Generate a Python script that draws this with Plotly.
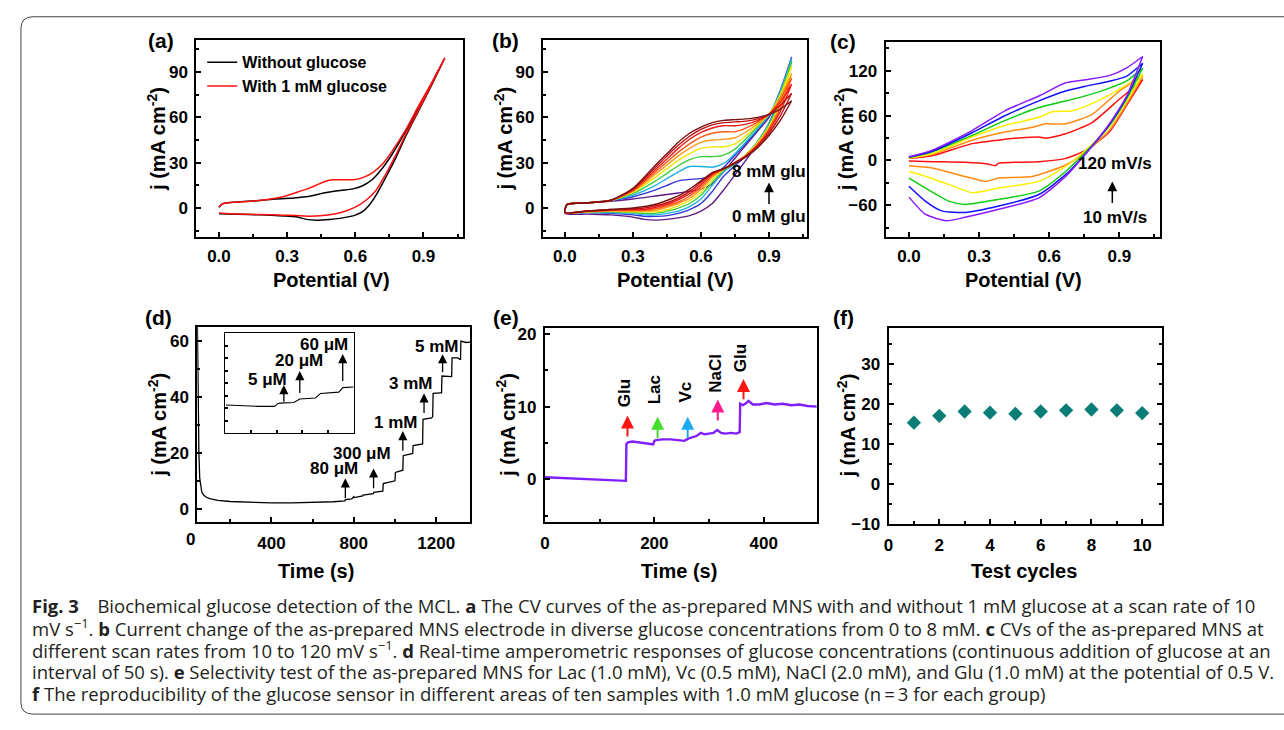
import plotly.graph_objects as go

W, H = 1284, 730
FONT = "Liberation Sans, Arial, sans-serif"
CAP_FONT = "Open Sans, sans-serif"

def fx(p):
    return p / W

def fy(p):
    return 1 - p / H

# ---------------- DATA ----------------
# (a) CV with / without glucose
a_black_fwd_V = [0.0, 0.015, 0.05, 0.11, 0.18, 0.25, 0.33, 0.37, 0.41, 0.46, 0.50, 0.54, 0.59, 0.63, 0.675, 0.72, 0.76, 0.82, 0.88, 0.936, 0.994]
a_black_fwd_j = [0.6, 2.8, 3.7, 4.3, 5.0, 6.0, 6.7, 7.3, 8.2, 9.9, 11.0, 11.8, 12.7, 14.6, 18.9, 26.5, 35.1, 50.2, 66.3, 82.5, 99.3]
a_black_rev_V = [0.994, 0.936, 0.878, 0.82, 0.777, 0.733, 0.69, 0.66, 0.63, 0.60, 0.544, 0.486, 0.428, 0.385, 0.341, 0.283, 0.18, 0.08, 0.0]
a_black_rev_j = [99.3, 81.4, 64.2, 46.9, 32.9, 20.0, 8.2, 1.7, -2.6, -4.7, -6.5, -7.5, -8.0, -7.5, -5.8, -5.2, -4.5, -4.1, -3.7]
a_red_fwd_V = [0.0, 0.015, 0.065, 0.138, 0.196, 0.254, 0.298, 0.341, 0.385, 0.428, 0.472, 0.50, 0.544, 0.60, 0.63, 0.675, 0.72, 0.76, 0.82, 0.878, 0.936, 0.994]
a_red_fwd_j = [0.6, 2.8, 3.9, 4.5, 5.4, 6.7, 8.2, 10.3, 12.5, 15.1, 17.9, 18.7, 18.7, 18.9, 20.0, 23.3, 29.1, 37.2, 51.2, 67.4, 82.9, 99.3]
a_red_rev_V = [0.994, 0.936, 0.878, 0.82, 0.777, 0.733, 0.69, 0.646, 0.60, 0.559, 0.515, 0.457, 0.40, 0.341, 0.283, 0.18, 0.08, 0.0]
a_red_rev_j = [99.3, 82.0, 64.8, 48.0, 34.7, 22.2, 11.4, 5.0, 0.6, -1.9, -3.7, -5.0, -5.4, -5.0, -4.7, -4.3, -3.9, -3.2]
a_names = ["Without glucose", "With 1 mM glucose"]

# (b) CVs at 0 -> 8 mM glucose (purple -> dark red)
b_fwd_V = [0.0, 0.01, 0.1, 0.2, 0.3, 0.4, 0.45, 0.5, 0.55, 0.6, 0.65, 0.7, 0.75, 0.8, 0.85, 0.9, 0.95, 1.0]
b_rev_V = [1.0, 0.95, 0.9, 0.85, 0.8, 0.75, 0.7, 0.65, 0.6, 0.55, 0.5, 0.45, 0.4, 0.35, 0.3, 0.2, 0.1, 0.0]
b_fwd_j = [
    [-3.5, 2.0, 3.5, 4.5, 6.0, 8.0, 9.0, 10.0, 11.0, 12.5, 16.0, 24.0, 33.0, 42.0, 51.0, 60.0, 77.0, 97.0],
    [-3.0, 2.5, 3.5, 5.0, 7.5, 12.0, 15.0, 18.0, 19.0, 19.5, 21.5, 27.0, 35.0, 43.0, 52.0, 61.0, 78.0, 100.0],
    [-3.0, 2.5, 3.5, 5.0, 8.5, 15.0, 19.5, 24.0, 27.5, 27.5, 27.0, 29.5, 36.0, 44.0, 52.5, 61.5, 77.0, 99.0],
    [-3.0, 2.5, 3.5, 5.0, 9.5, 18.0, 23.0, 28.0, 32.0, 34.0, 34.0, 35.0, 39.0, 46.0, 54.0, 62.0, 76.0, 97.0],
    [-3.0, 2.5, 3.5, 5.0, 10.5, 20.5, 26.0, 31.5, 36.0, 39.5, 40.5, 40.5, 42.5, 48.0, 55.0, 62.0, 75.0, 94.0],
    [-3.0, 2.5, 3.5, 5.0, 11.0, 22.5, 28.5, 34.5, 39.5, 43.5, 45.0, 45.5, 46.5, 50.5, 56.0, 62.0, 73.0, 89.0],
    [-3.0, 2.5, 3.5, 5.0, 11.5, 24.0, 30.5, 37.0, 42.5, 47.0, 49.5, 50.5, 50.5, 53.0, 57.0, 62.0, 72.0, 86.0],
    [-3.0, 2.5, 3.5, 5.0, 12.0, 25.5, 32.5, 39.5, 45.5, 50.0, 53.0, 54.5, 54.5, 55.5, 58.0, 62.0, 70.0, 82.0],
    [-3.0, 2.5, 3.5, 5.0, 12.5, 27.0, 34.5, 41.5, 47.5, 52.0, 55.0, 56.5, 57.0, 57.5, 59.0, 62.0, 68.0, 76.0],
    [-3.0, 2.5, 3.5, 5.0, 13.0, 28.5, 36.0, 43.5, 49.5, 53.5, 56.5, 58.0, 58.5, 59.0, 60.0, 62.0, 65.5, 71.0],
]
b_rev_j = [
    [97, 75, 56, 43, 32, 22, 12, 3, -2, -5, -6.5, -7.5, -8, -7.5, -6, -4.5, -4, -3.5],
    [100, 74, 56, 44, 35, 28, 21, 11, 3, -1, -3.5, -5, -5.5, -5.5, -4.5, -3.5, -3, -3],
    [99, 73, 56, 44, 35.5, 29, 24, 15, 6, 1, -2, -3.5, -4.5, -4.5, -3.5, -3, -3, -3],
    [97, 72, 55, 44, 35.5, 29.5, 25, 17, 8.5, 3, 0, -2, -3.5, -3.5, -3, -2.5, -2.5, -3],
    [94, 70, 54, 43.5, 35.5, 30, 25.5, 19, 10.5, 5, 1.5, -1, -2.5, -2.5, -2.5, -2, -2.5, -3],
    [89, 68, 53, 42.5, 35, 30, 26, 20.5, 12.5, 6.5, 3, 0.5, -1.5, -2, -2, -2, -2.5, -3],
    [86, 66, 52, 42, 35, 30, 26, 21.5, 14, 8, 4, 1.5, -0.5, -1.5, -1.5, -1.5, -2, -3],
    [82, 64, 51, 41.5, 34.5, 30, 26, 22.5, 15.5, 9.5, 5.5, 2.5, 0.5, -1, -1, -1.5, -2, -3],
    [76, 61, 49.5, 41, 34.5, 30, 26, 23, 17, 11, 6.5, 3.5, 1.5, 0, -0.5, -1, -2, -3],
    [71, 58, 48, 40, 34, 29.5, 26, 23.5, 18, 12.5, 8, 5, 2.5, 1, 0, -1, -2, -3],
]
b_colors = ["#5e1a86", "#3434d8", "#22b2ea", "#3ccc3c", "#f0e400", "#ff9a1a", "#ff5a14", "#ee1c1c", "#c01010", "#7a1010"]

# (c) CVs at scan rates 10 -> 120 mV/s
c_fwd_V = [
    [0, 0.1, 0.27, 0.41, 0.47, 0.556, 0.585, 0.67, 0.785, 0.9, 1.0],
    [0, 0.1, 0.27, 0.41, 0.53, 0.585, 0.67, 0.785, 0.9, 1.0],
    [0, 0.1, 0.27, 0.41, 0.556, 0.613, 0.7, 0.81, 0.91, 1.0],
    [0, 0.1, 0.27, 0.41, 0.556, 0.642, 0.728, 0.843, 0.93, 1.0],
    [0, 0.1, 0.27, 0.41, 0.556, 0.67, 0.757, 0.857, 0.93, 1.0],
    [0, 0.1, 0.27, 0.41, 0.556, 0.67, 0.757, 0.857, 0.93, 1.0],
]
c_fwd_j = [
    [2.8, 6.3, 22.5, 28.3, 30, 31.3, 29.8, 35.7, 51, 81.8, 108],
    [3, 8, 27, 38, 44.5, 49, 49, 62, 92.8, 112.5],
    [3.5, 9.4, 31.3, 46.7, 57.7, 65, 66.5, 80, 97, 115.6],
    [4, 11.6, 33.5, 53.3, 70.8, 77.4, 84, 95, 106, 123.5],
    [4.5, 12.4, 37, 59.8, 79.6, 92.8, 99.4, 106, 112.5, 130],
    [5, 13.8, 40, 66.4, 86.2, 103.8, 108, 113.4, 123.5, 139],
]
c_rev_V = [
    [1.0, 0.93, 0.857, 0.757, 0.67, 0.556, 0.45, 0.384, 0.37, 0.34, 0.24, 0.1, 0],
    [1.0, 0.93, 0.857, 0.757, 0.67, 0.527, 0.384, 0.327, 0.24, 0.1, 0],
    [1.0, 0.93, 0.857, 0.757, 0.67, 0.556, 0.384, 0.27, 0.17, 0.07, 0],
    [1.0, 0.93, 0.857, 0.757, 0.67, 0.556, 0.384, 0.24, 0.17, 0.07, 0],
    [1.0, 0.93, 0.857, 0.757, 0.67, 0.556, 0.384, 0.24, 0.14, 0.07, 0],
    [1.0, 0.93, 0.857, 0.757, 0.67, 0.556, 0.384, 0.24, 0.16, 0.07, 0],
]
c_rev_j = [
    [108, 73, 38, 13.8, 2.8, -1.6, -2.5, -3.5, -6.9, -5, -2.5, -1.6, -0.7],
    [112.5, 75, 40, 11.6, -6, -21.4, -23.5, -28, -21.4, -10, -6.9],
    [115.6, 79, 44.5, 14, -8, -28, -36.7, -43, -32, -21, -14.8],
    [123.5, 81.8, 46.7, 11.6, -14.8, -41, -52, -58.7, -54.3, -36.7, -23.6],
    [130, 84, 47.6, 9.4, -19, -45.5, -61, -69.6, -67.4, -54.3, -34.5],
    [139, 85.3, 49, 9.4, -21.4, -50, -65.3, -76, -80.6, -71.8, -49],
]
c_colors = ["#ff1010", "#ff8a10", "#f8f000", "#10cc10", "#1010ff", "#8a1aff"]

# (d) amperometric response
d_t = [40, 44, 48, 52, 56, 62, 70, 80, 100, 140, 200, 300, 400, 500, 600, 700, 757, 759, 790, 800, 802,
       830, 843, 845, 880, 895, 897, 935, 941, 943, 975, 990, 1000, 1002, 1030, 1038, 1040, 1080, 1086,
       1088, 1130, 1134, 1136, 1178, 1183, 1185, 1222, 1226, 1228, 1270, 1275, 1277, 1305, 1315, 1318,
       1320, 1335, 1345, 1365]
d_j = [70, 40, 20, 11, 8, 6, 5, 4.3, 3.6, 3.0, 2.6, 2.3, 2.1, 2.1, 2.2, 2.5, 2.8, 3.3, 3.5, 4.3, 4.0,
       4.3, 4.6, 4.9, 5.2, 5.4, 5.9, 6.2, 6.3, 9.0, 9.5, 9.8, 10.0, 13.0, 13.5, 13.8, 19.0, 19.5, 19.8,
       22.6, 23.0, 23.2, 32.0, 32.5, 33.0, 41.3, 41.5, 41.5, 47.5, 47.5, 47.3, 54.0, 54.0, 53.5, 53.5,
       60.0, 59.8, 59.5, 59.6]
d_arrow_t = [759, 896, 1038, 1141, 1231]
d_arrow_base = [3.3, 6.8, 20.2, 33.7, 48.3]
d_arrow_tip = [10.9, 14.4, 27.8, 41.3, 55.3]
d_labels = ["80 μM", "300 μM", "1 mM", "3 mM", "5 mM"]
d_label_t = [702, 838, 1001, 1073, 1202]
d_label_j = [14.4, 19.6, 30.8, 44.8, 58.2]

# (d) inset (arbitrary units, no tick labels)
inset_u = [0.5, 12.1, 25.1, 38.0, 39.3, 40.6, 42.6, 53.5, 55.6, 58.1, 70.3, 72.1, 74.2, 88.4, 90.2, 91.7, 100]
inset_v = [28.1, 27.4, 26.8, 26.8, 27.4, 29.4, 30.0, 30.6, 31.9, 34.2, 35.2, 37.7, 39.7, 41.0, 43.5, 45.5, 46.1]
inset_arrow_u = [45.7, 58.1, 91.5]
inset_arrow_base = [30.0, 38.7, 50.6]
inset_arrow_tip = [48.0, 62.0, 79.0]
inset_labels = ["5 μM", "20 μM", "60 μM"]
inset_label_u = [33.3, 57.4, 76.7]
inset_label_v = [53.9, 72.6, 88.7]

# (e) selectivity test
e_t = [0, 50, 100, 140, 148, 149, 152, 160, 175, 190, 198, 200, 203, 215, 230, 245, 255, 262, 270, 278,
       285, 292, 300, 308, 315, 322, 330, 340, 350, 356, 357, 362, 368, 372, 380, 392, 405, 420, 435,
       450, 465, 480, 497]
e_j = [0.3, 0.15, 0.0, -0.2, -0.2, 4.9, 5.1, 5.2, 5.0, 4.9, 4.8, 5.3, 5.4, 5.5, 5.5, 5.4, 5.3, 5.6, 5.8,
       6.0, 6.4, 6.2, 6.3, 6.4, 6.8, 6.4, 6.3, 6.4, 6.3, 6.5, 10.4, 10.2, 10.5, 10.8, 10.3, 10.3, 10.5,
       10.3, 10.4, 10.2, 10.3, 10.1, 10.0]
e_species = ["Glu", "Lac", "Vc", "NaCl", "Glu"]
e_arrow_t = [151, 206, 261, 316, 363]
e_arrow_base = [5.7, 5.5, 5.5, 7.9, 10.8]
e_arrow_tip = [8.8, 8.6, 8.6, 11.0, 13.8]
e_label_j = [11.9, 12.3, 12.0, 14.6, 16.7]
e_arrow_colors = ["#ff1414", "#44dd2e", "#1eaaf0", "#ff1a8c", "#ff1414"]

# (f) reproducibility
f_cycle = [1, 2, 3, 4, 5, 6, 7, 8, 9, 10]
f_j = [15.3, 17.0, 18.1, 17.8, 17.5, 18.1, 18.4, 18.6, 18.4, 17.7]

# caption
caption_lines = [
    "<b>Fig. 3</b>\u2003Biochemical glucose detection of the MCL. <b>a</b> The CV curves of the as-prepared MNS with and without 1 mM glucose at a scan rate of 10",
    "mV s<sup>\u22121</sup>. <b>b</b> Current change of the as-prepared MNS electrode in diverse glucose concentrations from 0 to 8 mM. <b>c</b> CVs of the as-prepared MNS at",
    "different scan rates from 10 to 120 mV s<sup>\u22121</sup>. <b>d</b> Real-time amperometric responses of glucose concentrations (continuous addition of glucose at an",
    "interval of 50 s). <b>e</b> Selectivity test of the as-prepared MNS for Lac (1.0 mM), Vc (0.5 mM), NaCl (2.0 mM), and Glu (1.0 mM) at the potential of 0.5 V.",
    "<b>f</b> The reproducibility of the glucose sensor in different areas of ten samples with 1.0 mM glucose (n\u2009=\u20093 for each group)",
]

# ---------------- FIGURE ----------------
fig = go.Figure()

# (a)
fig.add_trace(go.Scatter(x=a_black_fwd_V + a_black_rev_V, y=a_black_fwd_j + a_black_rev_j, mode="lines",
                         line=dict(color="black", width=1.5, shape="spline", smoothing=0.6),
                         name=a_names[0], xaxis="x", yaxis="y"))
fig.add_trace(go.Scatter(x=a_red_fwd_V + a_red_rev_V, y=a_red_fwd_j + a_red_rev_j, mode="lines",
                         line=dict(color="#ff1010", width=1.5, shape="spline", smoothing=0.6),
                         name=a_names[1], xaxis="x", yaxis="y"))

# (b)
for fj, rj, col in zip(b_fwd_j, b_rev_j, b_colors):
    fig.add_trace(go.Scatter(x=b_fwd_V + b_rev_V, y=fj + rj, mode="lines", showlegend=False,
                             line=dict(color=col, width=1.4, shape="spline", smoothing=0.6),
                             xaxis="x2", yaxis="y2"))

# (c)
for fv, fj, rv, rj, col in zip(c_fwd_V, c_fwd_j, c_rev_V, c_rev_j, c_colors):
    fig.add_trace(go.Scatter(x=fv + rv, y=fj + rj, mode="lines", showlegend=False,
                             line=dict(color=col, width=1.5, shape="spline", smoothing=0.6),
                             xaxis="x3", yaxis="y3"))

# (d)
fig.add_trace(go.Scatter(x=d_t, y=d_j, mode="lines", showlegend=False,
                         line=dict(color="black", width=1.3), xaxis="x4", yaxis="y4"))
fig.add_trace(go.Scatter(x=inset_u, y=inset_v, mode="lines", showlegend=False,
                         line=dict(color="black", width=1.1), xaxis="x7", yaxis="y7"))

# (e)
fig.add_trace(go.Scatter(x=e_t, y=e_j, mode="lines", showlegend=False,
                         line=dict(color="#7f1fff", width=2.4), xaxis="x5", yaxis="y5"))

# (f)
fig.add_trace(go.Scatter(x=f_cycle, y=f_j, mode="markers", showlegend=False,
                         marker=dict(symbol="diamond", size=11, color="#0b7d77"),
                         xaxis="x6", yaxis="y6"))

TICKFONT = dict(family=FONT, size=17, color="black", weight="bold")


def axis(dom, rng, dtick, tick0=0, minor=None, anchor=None, fmt=None, mirror=True, lw=2,
         labels=True, ticklen=5, standoff=2):
    d = dict(domain=dom, range=rng, tickmode="linear", tick0=tick0, dtick=dtick, ticks="inside",
             ticklen=ticklen, tickwidth=2, tickcolor="black", showline=True, linecolor="black",
             linewidth=lw, mirror=mirror, showgrid=False, zeroline=False, tickfont=TICKFONT,
             anchor=anchor, fixedrange=True, showticklabels=labels, ticklabelstandoff=standoff)
    if fmt:
        d["tickformat"] = fmt
    if minor:
        d["minor"] = dict(ticks="inside", ticklen=3, tickwidth=1.5, tickcolor="black", dtick=minor,
                          tick0=tick0, showgrid=False)
    return d


# pixel frames
A = (192, 460, 38, 238)
B = (540, 805, 38, 238)
C = (884, 1160, 40, 238)
D = (193, 467, 330, 528)
E = (542, 815, 331, 528)
F = (887, 1162, 331, 530)
I = (221, 350, 336, 438)


def dx(f):
    return [fx(f[0]), fx(f[1])]


def dy(f):
    return [fy(f[3]), fy(f[2])]


fig.update_layout(
    xaxis=axis(dx(A), [-0.1, 1.075], 0.3, minor=0.15, anchor="y", fmt=".1f", standoff=3),
    yaxis=axis(dy(A), [-19, 111], 30, minor=15, anchor="x", standoff=3),
    xaxis2=axis(dx(B), [-0.097, 1.067], 0.3, minor=0.15, anchor="y2", fmt=".1f", standoff=3),
    yaxis2=axis(dy(B), [-19, 111], 30, minor=15, anchor="x2", standoff=3),
    xaxis3=axis(dx(C), [-0.1, 1.076], 0.3, minor=0.15, anchor="y3", fmt=".1f", standoff=3),
    yaxis3=axis(dy(C), [-102, 158], 60, minor=30, anchor="x3", standoff=3),
    xaxis4=axis(dx(D), [40, 1365], 400, minor=200, anchor="y4", standoff=5),
    yaxis4=axis(dy(D), [-4.6, 65], 20, minor=10, anchor="x4", standoff=3),
    xaxis5=axis(dx(E), [0, 497], 200, minor=100, anchor="y5", standoff=5),
    yaxis5=axis(dy(E), [-5.8, 20.8], 10, minor=5, anchor="x5", standoff=3),
    xaxis6=axis(dx(F), [0, 10.8], 2, minor=1, anchor="y6", standoff=5),
    yaxis6=axis(dy(F), [-10, 39], 10, minor=5, anchor="x6", mirror="ticks", standoff=3),
    xaxis7=axis(dx(I), [0, 100], 20, anchor="y7", lw=1, labels=False, ticklen=3),
    yaxis7=axis(dy(I), [0, 100], 12.5, anchor="x7", lw=1, labels=False, ticklen=3),
)

ann = []
TXT = dict(family=FONT, size=17, color="black", weight="bold")


def paper_text(text, x, y, font, angle=0, xanchor="center"):
    return dict(text=text, x=fx(x), y=fy(y), xref="paper", yref="paper", showarrow=False,
                xanchor=xanchor, yanchor="middle", textangle=angle, font=font)


# panel letters
for lab, x, y in [("(a)", 157, 38), ("(b)", 502, 38), ("(c)", 841, 39),
                  ("(d)", 154, 320), ("(e)", 503, 320), ("(f)", 842, 320)]:
    ann.append(paper_text(lab, x, y, dict(family=FONT, size=21, color="black", weight="bold")))

# axis titles
YT = "j (mA cm<sup>-2</sup>)"
TITLEFONT = dict(family=FONT, size=20, color="black", weight="bold")
for x, frame in [(152, A), (500, B), (842, C), (153, D), (503, E), (845, F)]:
    ann.append(paper_text(YT, x, (frame[2] + frame[3]) / 2, TITLEFONT, angle=-90))
for txt, x, y in [("Potential (V)", 328, 282), ("Potential (V)", 673, 282), ("Potential (V)", 1022, 282),
                  ("Time (s)", 312, 578), ("Time (s)", 677, 578), ("Test cycles", 1023, 578)]:
    ann.append(paper_text(txt, x, y, TITLEFONT))

# "0" tick label of panel d (its tick sits just left of the frame)
ann.append(paper_text("0", 186, 546, TICKFONT))

# (b) annotation
ann.append(dict(text="8 mM glu", x=0.9, y=24.4, xref="x2", yref="y2", showarrow=False, font=TXT))
ann.append(dict(text="0 mM glu", x=0.9, y=-5.4, xref="x2", yref="y2", showarrow=False, font=TXT))
ann.append(dict(text="", x=0.9, y=16.9, ax=0.9, ay=1.7, xref="x2", yref="y2", axref="x2", ayref="y2",
                showarrow=True, arrowhead=2, arrowsize=1.3, arrowwidth=1.5, arrowcolor="black"))
# (c) annotation
ann.append(dict(text="120 mV/s", x=0.883, y=-3.8, xref="x3", yref="y3", showarrow=False, font=TXT))
ann.append(dict(text="10 mV/s", x=0.883, y=-76, xref="x3", yref="y3", showarrow=False, font=TXT))
ann.append(dict(text="", x=0.87, y=-28, ax=0.87, ay=-58.7, xref="x3", yref="y3", axref="x3", ayref="y3",
                showarrow=True, arrowhead=2, arrowsize=1.3, arrowwidth=1.5, arrowcolor="black"))

# (d) arrows and labels
for t, b0, tip in zip(d_arrow_t, d_arrow_base, d_arrow_tip):
    ann.append(dict(text="", x=t, y=tip, ax=t, ay=b0, xref="x4", yref="y4", axref="x4", ayref="y4",
                    showarrow=True, arrowhead=2, arrowsize=1.4, arrowwidth=1.3, arrowcolor="black"))
for lab, t, j in zip(d_labels, d_label_t, d_label_j):
    ann.append(dict(text=lab, x=t, y=j, xref="x4", yref="y4", showarrow=False, font=TXT))
for u, b0, tip in zip(inset_arrow_u, inset_arrow_base, inset_arrow_tip):
    ann.append(dict(text="", x=u, y=tip, ax=u, ay=b0, xref="x7", yref="y7", axref="x7", ayref="y7",
                    showarrow=True, arrowhead=2, arrowsize=1.4, arrowwidth=1.3, arrowcolor="black"))
for lab, u, v in zip(inset_labels, inset_label_u, inset_label_v):
    ann.append(dict(text=lab, x=u, y=v, xref="x7", yref="y7", showarrow=False, font=TXT))

# (e) arrows and labels
for sp, t, b0, tip, lj, col in zip(e_species, e_arrow_t, e_arrow_base, e_arrow_tip, e_label_j, e_arrow_colors):
    ann.append(dict(text="", x=t, y=tip, ax=t, ay=b0, xref="x5", yref="y5", axref="x5", ayref="y5",
                    showarrow=True, arrowhead=2, arrowsize=1.3, arrowwidth=2, arrowcolor=col))
    ann.append(dict(text=sp, x=t - 4, y=lj, xref="x5", yref="y5", showarrow=False, textangle=-90,
                    font=TXT))

# caption
CAPFONT = dict(family=CAP_FONT, size=18.5, color="#231f20")
for i, line in enumerate(caption_lines):
    a = paper_text(line, 25, 613 + 22.5 * i, CAPFONT, xanchor="left")
    a["align"] = "left"
    ann.append(a)

# border (rounded at the left corners, open to the right)
x0, x1 = fx(16), fx(1300)
y0, y1 = fy(14), fy(724)
rx, ry = fx(28) - fx(16), fy(14) - fy(26)
path = (f"M{x1},{y0} L{x0 + rx},{y0} Q{x0},{y0} {x0},{y0 - ry} L{x0},{y1 + ry} "
        f"Q{x0},{y1} {x0 + rx},{y1} L{x1},{y1}")

fig.update_layout(
    width=W, height=H, autosize=False,
    margin=dict(l=0, r=0, t=0, b=0),
    paper_bgcolor="white", plot_bgcolor="white",
    annotations=ann,
    shapes=[dict(type="path", path=path, xref="paper", yref="paper", line=dict(color="#444", width=1))],
    legend=dict(x=fx(198), y=fy(43), xanchor="left", yanchor="top", bgcolor="rgba(0,0,0,0)",
                font=dict(family=FONT, size=16, color="black", weight="bold"), tracegroupgap=0),
    showlegend=True,
)

fig.write_html("out.html", config={"displayModeBar": False},
               post_script="document.body.style.margin='0px';")
